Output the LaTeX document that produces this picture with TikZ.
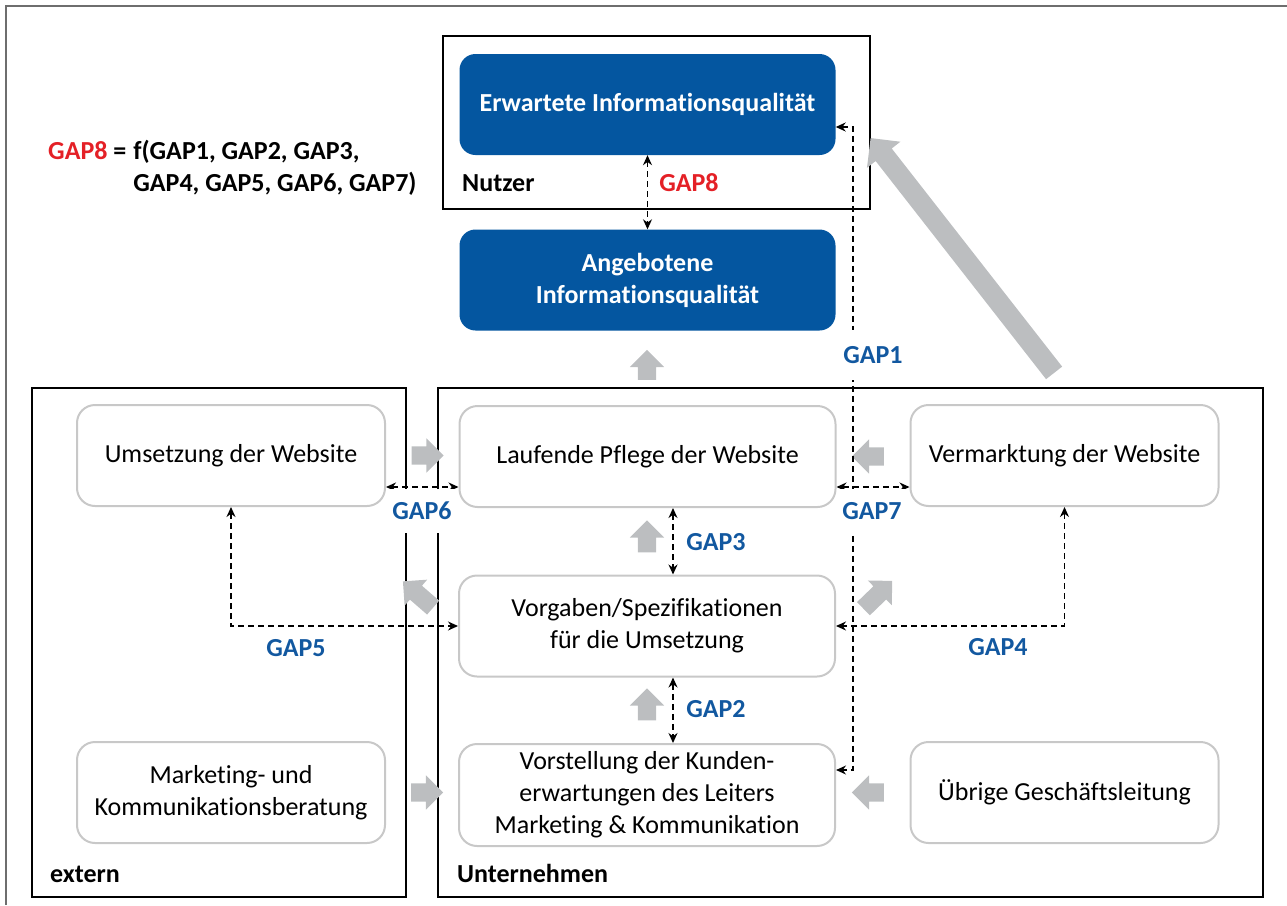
\documentclass[tikz,border=0pt]{standalone}
\usepackage{fontspec}
\setmainfont{Carlito}[Ligatures=NoCommon]
\usetikzlibrary{arrows.meta,shapes.arrows}
\definecolor{gapblue}{RGB}{18,88,160}
\definecolor{gapred}{RGB}{228,32,38}
\definecolor{boxblue}{RGB}{4,86,160}
\definecolor{arrgray}{RGB}{188,190,192}
\definecolor{boxgray}{RGB}{200,200,200}
\definecolor{rimgray}{RGB}{110,110,110}

\begin{document}
\begin{tikzpicture}[x=1pt, y=-1pt,
  every node/.style={font=\fontsize{26}{32}\selectfont, inner sep=0pt},
  box/.style={draw=boxgray, line width=2pt, rounded corners=18pt, fill=white,
    minimum width=308pt, minimum height=101pt, align=center},
  widebox/.style={box, minimum width=376pt},
  bluebox/.style={fill=boxblue, rounded corners=16pt, minimum width=376pt,
    minimum height=101pt, align=center, text=white,
    font=\fontsize{26}{32}\selectfont\bfseries},
  area/.style={draw, line width=1.5pt},
  title/.style={font=\fontsize{26}{32}\selectfont\bfseries, anchor=base west},
  gap/.style={font=\fontsize{26}{32}\selectfont\bfseries, text=gapblue},
  gapcut/.style={gap, fill=white, minimum height=44pt, inner xsep=3pt},
  gapline/.style={dash pattern=on 6pt off 4pt, line width=1.3pt,
    {Stealth[length=10pt 0 0,width=9pt 0 0]}-{Stealth[length=10pt 0 0,width=9pt 0 0]}},
  flow/.style={single arrow, fill=arrgray, inner ysep=9pt,
    single arrow head extend=8pt, single arrow head indent=0pt, minimum height=32pt}]
  \useasboundingbox (0,0) rectangle (1287,905);
  \draw[rimgray, line width=2pt] (6,905) -- (6,6) -- (1287,6);

  % areas
  \node[area, minimum width=427pt, minimum height=173pt] (nutzer) at (656.5,122.5) {};
  \node[area, minimum width=374pt, minimum height=509pt] (extern) at (219,642.5) {};
  \node[area, minimum width=825pt, minimum height=509pt] (untern) at (850.5,642.5) {};
  \node[title] (nutlab) at (462,191) {Nutzer};
  \node[title] (extlab) at (50,882) {extern};
  \node[title] (untlab) at (457,882) {Unternehmen};

  \node[anchor=west, font=\fontsize{26}{32}\selectfont\bfseries] (gapf) at (48,169)
    {\begin{tabular}{@{}l@{\hspace*{7pt}}l@{}}
      \textcolor{gapred}{GAP8} = & f(GAP1, GAP2, GAP3,\\
      & GAP4, GAP5, GAP6, GAP7)
    \end{tabular}};

  % boxes
  \node[bluebox] (erw) at (647.5,104.5) {Erwartete Informationsqualität};
  \node[bluebox] (ang) at (647.5,280) {Angebotene\\Informationsqualität};

  \node[box] (ums) at (231,455.5) {Umsetzung der Website};
  \node[widebox] (lauf) at (647.5,456.5) {Laufende Pflege der Website};
  \node[box] (verm) at (1064.5,455.5) {Vermarktung der Website};
  \node[widebox] (vorg) at (647,626) {Vorgaben/Spezifikationen\\für die Umsetzung};
  \node[box] (mkt) at (231,792.5) {Marketing- und\\Kommunikationsberatung};
  \node[widebox, minimum height=102pt] (vorst) at (647,795)
    {Vorstellung der Kunden-\\erwartungen des Leiters\\Marketing \& Kommunikation};
  \node[box] (ueb) at (1064.5,792.5) {Übrige Geschäftsleitung};

  % gray flows
  \node[flow, minimum height=30pt, rotate=90] (f1) at (647,369.5) {};
  \node[flow] (f2) at (423,455.5) {};
  \node[flow, rotate=180] (f3) at (872.5,456.5) {};
  \node[flow, rotate=90] (f4) at (647,541) {};
  \node[flow, rotate=90] (f5) at (647,709) {};
  \node[flow] (f6) at (422.5,792.5) {};
  \node[flow, rotate=180] (f7) at (872.5,792.5) {};
  \node[flow, minimum height=40pt, rotate=139] (f8) at (421.5,597.5) {};
  \node[flow, minimum height=40pt, rotate=44] (f9) at (874.5,598) {};
  \node[flow, minimum height=298pt, inner ysep=10pt, single arrow head extend=11pt,
    rotate=128] (f10) at (965.5,259.5) {};

  % gaps
  \coordinate (g67) at (0,487);
  \coordinate (g1a) at (853,127);
  \coordinate (g1b) at (853,770);
  \coordinate (g23) at (673,0);
  \draw[gapline] (erw.south) -- (ang.north);
  \draw[gapline] (erw.east |- g1a) -- (g1a) -- (g1b) -- (vorst.east |- g1b);
  \draw[gapline] (lauf.south -| g23) -- (vorg.north -| g23);
  \draw[gapline] (vorg.south -| g23) -- (vorst.north -| g23);
  \draw[gapline] (ums.south) |- (vorg.west);
  \draw[gapline] (verm.south) |- (vorg.east);
  \draw[gapline] (ums.east |- g67) -- (lauf.west |- g67);
  \draw[gapline] (lauf.east |- g67) -- (verm.west |- g67);

  \node[gap, text=gapred] (gap8) at (689,183) {GAP8};
  \node[gapcut, minimum height=50pt] (gap1) at (873,355) {GAP1};
  \node[gap] (gap2) at (716,709) {GAP2};
  \node[gap] (gap3) at (716,542) {GAP3};
  \node[gap] (gap4) at (998,647) {GAP4};
  \node[gap] (gap5) at (296,648) {GAP5};
  \node[gapcut] (gap6) at (422,511) {GAP6};
  \node[gapcut] (gap7) at (872,511) {GAP7};
\end{tikzpicture}
\end{document}
